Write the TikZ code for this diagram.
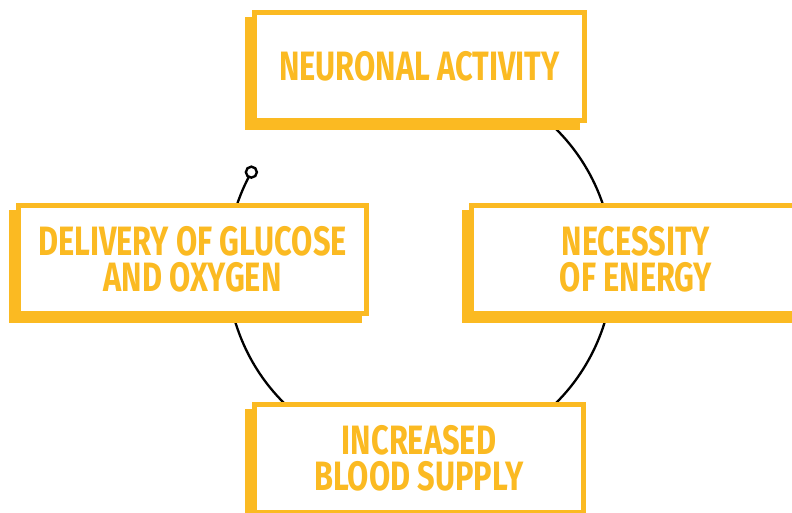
\documentclass[tikz,border=0pt]{standalone}
\usepackage{fontspec}
\newfontfamily\cond{Fira Sans}[FakeStretch=0.75]
\usetikzlibrary{shadows,calc}
\definecolor{ybox}{HTML}{FBBA22}
\begin{document}
\begin{tikzpicture}[x=1pt,y=-1pt,
  card/.style={draw=ybox, line width=5pt, fill=white, rectangle,
    minimum height=108pt, inner sep=0pt,
    drop shadow={shadow xshift=-7pt, shadow yshift=-7pt, opacity=1, fill=ybox, draw=ybox}},
  lbl/.style={text=ybox, font=\cond\bfseries\fontsize{41}{35.5}\selectfont, align=center, inner sep=0pt},
  link/.style={draw=black, line width=2.3pt},
  endmark/.style={circle, draw=black, fill=white, line width=2.4pt, inner sep=0pt, minimum size=11pt}]
\useasboundingbox (0,0) rectangle (792,513);
\coordinate (c) at (420,266);
\coordinate (e) at ($(c)+(209.1:193)$);
\draw[link] (e) arc[start angle=209.1, end angle=-120, radius=193];
\node[card, minimum width=330pt] (top) at (419.5,66.5) {};
\node[card, minimum width=348pt] (left) at (192.5,259.5) {};
\node[card, minimum width=329pt] (right) at (636,259.5) {};
\node[card, minimum width=329pt] (bottom) at (419,458.5) {};
\node[lbl] (ttop) at (top.center) {NEURONAL ACTIVITY};
\node[lbl] (tleft) at (left.center) {DELIVERY OF GLUCOSE\\AND OXYGEN};
\node[lbl] (tright) at (right.center) {NECESSITY\\OF ENERGY};
\node[lbl] (tbottom) at (bottom.center) {INCREASED\\BLOOD SUPPLY};
\node[endmark] (em) at (e) {};
\end{tikzpicture}
\end{document}
